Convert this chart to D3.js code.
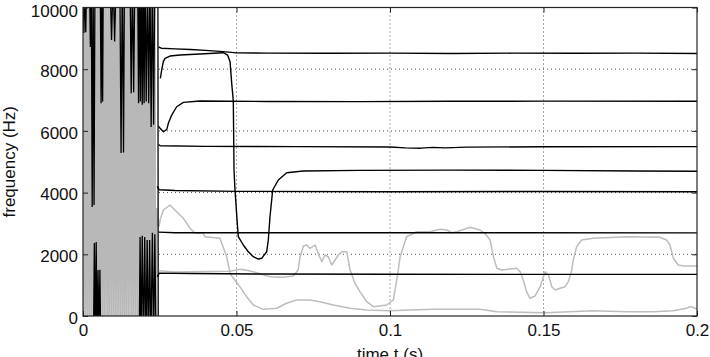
<!DOCTYPE html>
<html>
<head>
<meta charset="utf-8">
<script src="https://cdn.jsdelivr.net/npm/d3@7"></script>
<style>
  body { margin: 0; background: #fff; }
  svg { display: block; }
  text { font-family: "Liberation Sans", Arial, sans-serif; fill: #111; }
</style>
</head>
<body>
<svg id="chart" width="710" height="357"></svg>
<script>
// axis ticks
var xTicks = [0, 0.05, 0.1, 0.15, 0.2];
var xTickLabels = ['0', '0.05', '0.1', '0.15', '0.2'];
var yTicks = [0, 2000, 4000, 6000, 8000, 10000];
var xGrid = [0.05, 0.1, 0.15];
var yGrid = [2000, 4000, 6000, 8000];

// onset noise, times in ms, values in Hz (out of range values get clipped)
var noiseStepMs = 0.3;
var noiseGray = [11500, -900, 10800, -1200, 11200, -600, 10900, -1400, 11800, -800,
  10600, -1100, 11300, -700, 11000, -1300, 10700, -900, 11600, -500,
  10800, -1200, 11400, -1000, 10900, -700, 11100, -1500, 10600, -800,
  11700, -1100, 10800, -600, 11200, -1300, 11000, -900, 10500, -1200,
  11400, -700, 10900, -1000, 11300, -1400, 10700, -800, 11600, -1100,
  11000, -600, 10800, -1300, 11200, -900, 10600, -1000, 11500, -700,
  10900, -1200, 11100, -800, 10700, -1400, 11300, -900, 11000, -600,
  10800, -1100, 11400, -1300, 10600, -800, 11200, -1000, 10900, -700,
  3500, 2900];

var noiseBlackHigh = [[0, 11000], [0.3, 9170], [0.6, 11000], [0.9, 9200], [1.2, 11000],
  [2.1, 11000], [2.4, 8720], [2.7, 11000], [3.0, 3530], [3.3, 11000], [3.6, 3600], [3.9, 11000],
  [5.6, 11000], [5.9, 6900], [6.2, 11000], [6.4, 6950], [6.6, 11000],
  [8.8, 11000], [9.3, 8945], [9.8, 11000], [10.3, 8900], [10.8, 11000],
  [12.0, 11000], [12.4, 5280], [12.8, 11000], [13.2, 5300], [13.5, 11000],
  [15.3, 11000], [15.7, 7220], [16.1, 11000], [16.5, 7250], [16.9, 11000],
  [17.8, 11000], [18.1, 6900], [18.4, 11000], [18.7, 6950], [19.0, 11000], [19.3, 6850],
  [19.6, 11000], [19.9, 6900], [20.2, 11000], [20.6, 6950], [21.0, 11000], [21.4, 6900],
  [21.8, 11000], [22.2, 6130], [22.6, 11000], [23.0, 6200], [23.4, 11000],
  [24.4, 11000], [24.5, -1000]];

var noiseBlackLow = [[0, -1000], [3.4, -1000], [3.7, 2366], [4.0, -1000], [4.3, 2400],
  [4.6, -1000], [4.9, 1490], [5.2, -1000], [5.5, 1500], [5.8, -1000],
  [18.3, -1000], [18.6, 2560], [18.9, -1000], [19.3, 2600], [19.7, -1000], [20.1, 2560],
  [20.5, -1000], [20.9, 2460], [21.3, -1000], [21.7, 2460], [22.1, -1000],
  [22.6, 2700], [23.0, -1000], [23.4, 2650], [23.8, -1000]];

// formant tracks after onset, [time s, frequency Hz]
var black1 = [[0.0246, 8720], [0.0255, 8680], [0.030, 8660], [0.035, 8640], [0.040, 8610],
  [0.0457, 8570], [0.050, 8530], [0.060, 8520], [0.080, 8515], [0.100, 8520],
  [0.120, 8510], [0.140, 8520], [0.160, 8515], [0.180, 8520], [0.200, 8510]];
var black2 = [[0.0252, 7700], [0.02563, 7974], [0.02616, 8245], [0.02671, 8353], [0.02834, 8427],
  [0.0316, 8460], [0.0381, 8492], [0.0457, 8535], [0.0471, 8460], [0.0479, 8245],
  [0.04844, 7542], [0.04896, 6970], [0.04919, 4733], [0.04951, 4084], [0.05026, 3004],
  [0.05059, 2570], [0.05221, 2301], [0.05384, 2084], [0.05547, 1922], [0.0571, 1847],
  [0.0582, 1870], [0.05984, 2084], [0.06036, 2463], [0.06091, 3218], [0.06179, 4084],
  [0.06362, 4408], [0.06635, 4645], [0.07176, 4700], [0.09, 4720], [0.12, 4730],
  [0.15, 4720], [0.18, 4700], [0.2, 4690]];
var black3 = [[0.0246, 6150], [0.0251, 6084], [0.0262, 5974], [0.0273, 6051], [0.0278, 6245],
  [0.0289, 6514], [0.0305, 6783], [0.0327, 6926], [0.0381, 6968], [0.06, 6955],
  [0.09, 6950], [0.12, 6960], [0.15, 6965], [0.2, 6960]];
var black4 = [[0.0246, 5560], [0.0252, 5520], [0.04, 5500], [0.07, 5490], [0.1, 5480],
  [0.105, 5450], [0.11, 5440], [0.114, 5465], [0.118, 5450], [0.125, 5475],
  [0.15, 5485], [0.2, 5490]];
var black5 = [[0.0242, 4200], [0.0248, 4090], [0.03, 4070], [0.05, 4040], [0.1, 4030],
  [0.15, 4035], [0.2, 4030]];
var black6 = [[0.0246, 2720], [0.03, 2700], [0.1, 2700], [0.2, 2695]];
var black7 = [[0.0242, 1270], [0.0248, 1390], [0.035, 1380], [0.06, 1360], [0.1, 1352],
  [0.15, 1350], [0.2, 1350]];

var gray1 = [[0.0248, 2900], [0.0251, 3111], [0.0262, 3436], [0.0283, 3598], [0.0305, 3380],
  [0.0327, 3166], [0.0349, 2842], [0.0365, 2680], [0.0392, 2680], [0.0397, 2570],
  [0.0446, 2518], [0.0468, 1922], [0.0479, 1384], [0.0490, 1222], [0.0511, 950],
  [0.0533, 626], [0.0555, 356], [0.0587, 216], [0.0631, 250], [0.0663, 412],
  [0.0696, 519], [0.0739, 519], [0.0772, 465], [0.0815, 356], [0.0870, 250],
  [0.0924, 195], [0.1, 173], [0.1065, 195], [0.1141, 216], [0.1293, 216],
  [0.1348, 140], [0.1505, 108], [0.1662, 173], [0.1771, 140], [0.1858, 140],
  [0.1923, 173], [0.1966, 250], [0.1977, 302], [0.1988, 281], [0.2, 216]];
var gray2 = [[0.0248, 1470], [0.030, 1430], [0.040, 1440], [0.0479, 1450], [0.0511, 1513],
  [0.0533, 1480], [0.0566, 1404], [0.0609, 1274], [0.0652, 1254], [0.0685, 1296],
  [0.0701, 1491], [0.0707, 1922], [0.0718, 2269], [0.0729, 2301], [0.0739, 2194],
  [0.0756, 2301], [0.0766, 2032], [0.0778, 1760], [0.0788, 1977], [0.0799, 1922],
  [0.0810, 1653], [0.0821, 1815], [0.0832, 1977], [0.0843, 2084], [0.0859, 2084],
  [0.0870, 1491], [0.0886, 1060], [0.0902, 788], [0.0924, 465], [0.0946, 302],
  [0.0989, 356], [0.1011, 519], [0.1022, 1167], [0.1033, 1922], [0.1054, 2570],
  [0.1087, 2732], [0.1130, 2732], [0.1163, 2810], [0.1185, 2787], [0.1201, 2700],
  [0.1217, 2732], [0.1261, 2874], [0.1293, 2787], [0.1309, 2680], [0.1326, 2463],
  [0.1337, 1922], [0.1348, 1546], [0.1364, 1491], [0.1413, 1546], [0.1424, 1436],
  [0.1434, 1167], [0.1445, 788], [0.1456, 574], [0.1472, 648], [0.1489, 950],
  [0.1505, 1436], [0.1516, 1329], [0.1527, 950], [0.1538, 843], [0.1554, 897],
  [0.1570, 950], [0.1581, 1112], [0.1592, 1491], [0.1597, 1815], [0.1608, 2246],
  [0.1624, 2463], [0.1662, 2518], [0.1771, 2570], [0.1879, 2551], [0.1901, 2463],
  [0.1912, 2301], [0.1923, 1870], [0.1939, 1653], [0.1955, 1620], [0.2, 1620]];

var plotLeft = 83, plotRight = 697, plotTop = 7.5, plotBottom = 316;

var x = d3.scaleLinear().domain([0, 0.2]).range([plotLeft, plotRight]);
var y = d3.scaleLinear().domain([0, 10000]).range([plotBottom, plotTop]);

var svg = d3.select('#chart');

svg.append('clipPath').attr('id', 'plotclip')
  .append('rect')
  .attr('x', plotLeft).attr('y', plotTop)
  .attr('width', plotRight - plotLeft).attr('height', plotBottom - plotTop);

// dotted grid
var grid = svg.append('g').attr('class', 'grid');
grid.selectAll('line.gx').data(xGrid).enter().append('line')
  .attr('class', 'gx')
  .attr('x1', function (d) { return x(d); }).attr('x2', function (d) { return x(d); })
  .attr('y1', plotTop).attr('y2', plotBottom);
grid.selectAll('line.gy').data(yGrid).enter().append('line')
  .attr('class', 'gy')
  .attr('x1', plotLeft).attr('x2', plotRight)
  .attr('y1', function (d) { return y(d); }).attr('y2', function (d) { return y(d); });
grid.selectAll('line')
  .style('stroke', '#555')
  .style('stroke-width', 1)
  .style('stroke-dasharray', '1,3');

var plot = svg.append('g').attr('clip-path', 'url(#plotclip)');

var line = d3.line()
  .x(function (d) { return x(d[0]); })
  .y(function (d) { return y(d[1]); });

var lineMs = d3.line()
  .x(function (d) { return x(d[0] / 1000); })
  .y(function (d) { return y(d[1]); });

var grayNoisePts = noiseGray.map(function (v, i) { return [i * noiseStepMs, v]; });

plot.append('path').datum(grayNoisePts)
  .attr('d', lineMs)
  .style('fill', 'none').style('stroke', '#b8b8b8').style('stroke-width', 1.5);

[gray1, gray2].forEach(function (track) {
  plot.append('path').datum(track)
    .attr('d', line)
    .style('fill', 'none').style('stroke', '#bdbdbd').style('stroke-width', 1.5)
    .style('stroke-linejoin', 'round');
});

[noiseBlackHigh, noiseBlackLow].forEach(function (track) {
  plot.append('path').datum(track)
    .attr('d', lineMs)
    .style('fill', 'none').style('stroke', '#000').style('stroke-width', 1.3);
});

[black1, black2, black3, black4, black5, black6, black7].forEach(function (track) {
  plot.append('path').datum(track)
    .attr('d', line)
    .style('fill', 'none').style('stroke', '#000').style('stroke-width', 1.4)
    .style('stroke-linejoin', 'round');
});

// box axes, ticks pointing inwards
var fontSize = '17px';

svg.append('g')
  .attr('transform', 'translate(0,' + plotBottom + ')')
  .call(d3.axisBottom(x).tickValues(xTicks)
    .tickFormat(function (d, i) { return xTickLabels[i]; })
    .tickSizeInner(-5).tickSizeOuter(0).tickPadding(8));

var yAxisG = svg.append('g')
  .attr('transform', 'translate(' + plotLeft + ',0)')
  .call(d3.axisLeft(y).tickValues(yTicks)
    .tickFormat(d3.format('d'))
    .tickSizeInner(-5).tickSizeOuter(0).tickPadding(5));

// labels sit a touch below their ticks, the top one a bit more
yAxisG.selectAll('.tick text')
  .attr('dy', function (d) { return d === 10000 ? '0.5em' : '0.42em'; });

svg.append('g')
  .attr('transform', 'translate(0,' + plotTop + ')')
  .call(d3.axisTop(x).tickValues(xTicks).tickFormat('')
    .tickSizeInner(-5).tickSizeOuter(0));

svg.append('g')
  .attr('transform', 'translate(' + plotRight + ',0)')
  .call(d3.axisRight(y).tickValues(yTicks).tickFormat('')
    .tickSizeInner(-5).tickSizeOuter(0));

svg.selectAll('.domain').remove();
svg.selectAll('.tick line').style('stroke', '#222').style('stroke-width', 1);
svg.selectAll('.tick text')
  .style('font-family', '"Liberation Sans", Arial, sans-serif')
  .style('font-size', fontSize)
  .style('fill', '#111');

svg.append('rect')
  .attr('x', plotLeft).attr('y', plotTop)
  .attr('width', plotRight - plotLeft).attr('height', plotBottom - plotTop)
  .style('fill', 'none').style('stroke', '#262626').style('stroke-width', 1.2);

svg.append('text')
  .attr('x', (plotLeft + plotRight) / 2).attr('y', 360)
  .attr('text-anchor', 'middle')
  .style('font-size', fontSize)
  .text('time t (s)');

svg.append('text')
  .attr('transform', 'translate(15,' + ((plotTop + plotBottom) / 2) + ') rotate(-90)')
  .attr('text-anchor', 'middle')
  .style('font-size', '17px')
  .text('frequency (Hz)');
</script>
</body>
</html>
